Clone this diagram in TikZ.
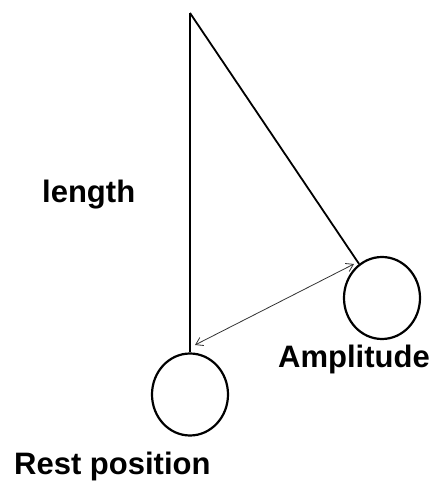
\documentclass[tikz,border=0pt]{standalone}
\usepackage{fontspec}
\setmainfont{Liberation Sans}
\usetikzlibrary{shapes.geometric,arrows.meta}
\begin{document}
\begin{tikzpicture}[x=1pt,y=1pt,
  bob/.style={draw,ellipse,line width=2.2pt,inner sep=0pt,minimum width=76pt,minimum height=82pt},
  rod/.style={line width=1.8pt},
  amp/.style={line width=0.8pt,draw=black!80,{Straight Barb[length=7pt,width=9pt]}-{Straight Barb[length=7pt,width=9pt]}},
  lbl/.style={anchor=base west,inner sep=0pt,font=\fontsize{31}{36}\selectfont\bfseries}]
\useasboundingbox (0,0) rectangle (430,482);
\coordinate (pivot) at (190,469);
\node[bob] (rest) at (190,87.5) {};
\node[bob] (swing) at (382,184) {};
\draw[rod] (pivot) -- (rest.north);
\draw[rod] (pivot) -- (swing);
\coordinate (a1) at (195,137);
\coordinate (a2) at (354,218);
\draw[amp] (a1) -- (a2);
\node[lbl] (length) at (42,279) {length};
\node[lbl] (amplitude) at (278,114) {Amplitude};
\node[lbl] (restlbl) at (14,7) {Rest position};
\end{tikzpicture}
\end{document}
